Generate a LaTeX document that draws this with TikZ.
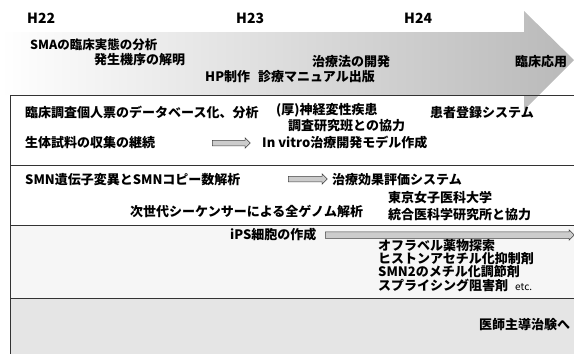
\documentclass[tikz,border=0pt]{standalone}
\usepackage{fontspec}
\setmainfont{Noto Sans CJK JP}
\usetikzlibrary{shapes.arrows}
\begin{document}
\begin{tikzpicture}[x=1pt,y=-1pt,
  lbl/.style={anchor=west, font=\bfseries\fontsize{13}{14}\selectfont, inner sep=0pt},
  hdr/.style={anchor=west, font=\bfseries\fontsize{14}{15}\selectfont, inner sep=0pt},
  sep/.style={draw=black!80, line width=1pt, dash pattern=on 1.6pt off 0.4pt},
  blk/.style={single arrow, draw=black!75, fill=gray!40, line width=0.5pt,
    inner xsep=0pt, inner ysep=2.5pt, single arrow head extend=2.5pt,
    single arrow head indent=0pt, anchor=west}
]
\useasboundingbox (0,0) rectangle (574,354);
% band fills
\fill[gray!7] (10,225) rectangle (574,298);
\fill[gray!20] (10,298) rectangle (574,354);
% big timeline arrow
\shade[left color=white, right color=gray!55]
  (0,32) -- (524,32) -- (524,11) -- (574,60) -- (524,110) -- (524,95) -- (0,95) -- cycle;
% separators
\draw[sep] (10,95) -- (574,95);
\draw[sep] (10,165) -- (574,165);
\draw[sep] (10,225) -- (574,225);
\draw[sep] (10,298) -- (574,298);
\draw[sep] (10,95) -- (10,354);
% years
\node[hdr] (h22) at (27,18) {H22};
\node[hdr] (h23) at (236,18) {H23};
\node[hdr] (h24) at (404,18) {H24};
% timeline labels
\node[lbl, font=\bfseries\fontsize{12.5}{14}\selectfont] (t1) at (30,45) {SMAの臨床実態の分析};
\node[lbl] (t2) at (94,60) {発生機序の解明};
\node[lbl] (t3) at (205,77) {HP制作};
\node[lbl] (t4) at (258,77) {診療マニュアル出版};
\node[lbl] (t5) at (312,62) {治療法の開発};
\node[lbl] (t6) at (515,62) {臨床応用};
% band 1
\node[lbl] (b1a) at (25,112) {臨床調査個人票のデータベース化、分析};
\node[lbl] (b1b) at (25,143) {生体試料の収集の継続};
\node[blk, minimum height=38pt] (ar1) at (212,143) {};
\node[lbl] (b1c) at (276,110) {(厚)神経変性疾患};
\node[lbl] (b1d) at (288,126) {調査研究班との協力};
\node[lbl] (b1e) at (262,143) {In vitro治療開発モデル作成};
\node[lbl] (b1f) at (430,113) {患者登録システム};
% band 2
\node[lbl] (b2a) at (25,180) {SMN遺伝子変異とSMNコピー数解析};
\node[blk, minimum height=39pt] (ar2) at (288,179) {};
\node[lbl] (b2b) at (332,180) {治療効果評価システム};
\node[lbl] (b2c) at (130,211) {次世代シーケンサーによる全ゲノム解析};
\node[lbl] (b2d) at (388,198) {東京女子医科大学};
\node[lbl] (b2e) at (388,215) {統合医科学研究所と協力};
% band 3
\node[lbl] (b3a) at (230,235) {iPS細胞の作成};
\node[blk, minimum height=249pt, inner ysep=3pt, single arrow head extend=2pt] (ar3) at (325,235) {};
\node[lbl] (b3b) at (378,246) {オフラベル薬物探索};
\node[lbl] (b3c) at (378,259) {ヒストンアセチル化抑制剤};
\node[lbl] (b3d) at (378,272) {SMN2のメチル化調節剤};
\node[lbl] (b3e) at (378,285) {スプライシング阻害剤};
\node[lbl, font=\fontsize{10}{12}\selectfont] (b3f) at (515,287) {etc.};
% band 4
\node[lbl] (b4a) at (479,325) {医師主導治験へ};
\end{tikzpicture}
\end{document}
